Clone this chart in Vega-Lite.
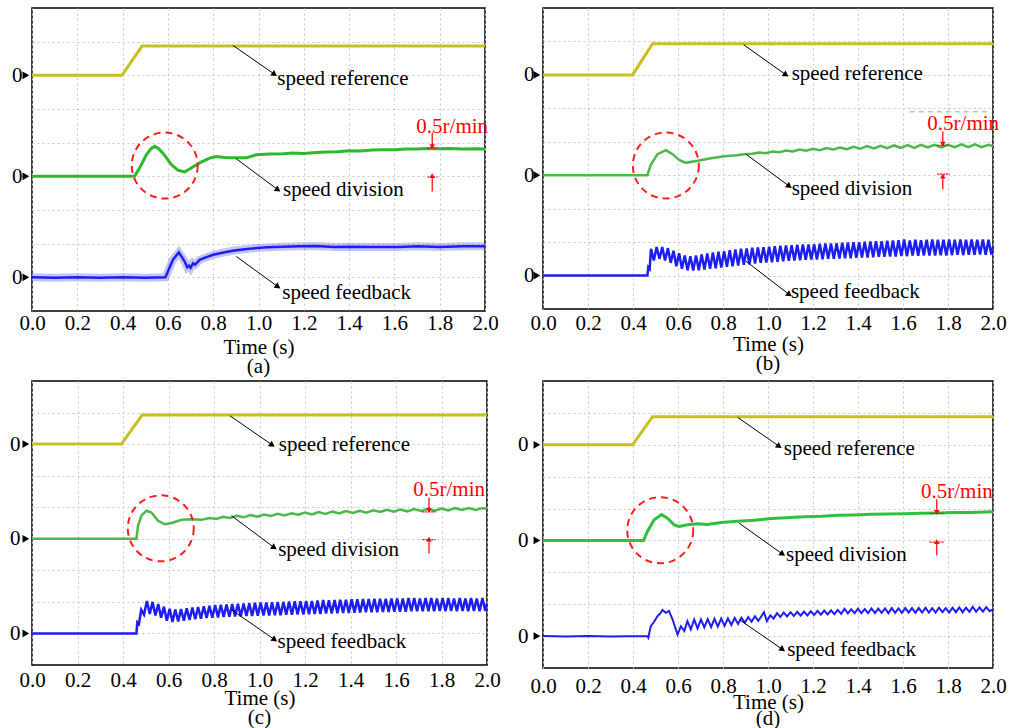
{
"$schema":"https://vega.github.io/schema/vega-lite/v6.json",
"padding":{"left":8,"top":7,"right":5,"bottom":5},
"background":"white",
"config":{
"font":"Liberation Serif, Times New Roman, Times, serif",
"view":{"stroke":"#000","strokeWidth":1.5},
"axis":{"labelFont":"Liberation Serif, Times New Roman, Times, serif","labelFontSize":21,"labelColor":"#000","titleFont":"Liberation Serif, Times New Roman, Times, serif","titleFontSize":21,"titleFontWeight":"normal","titleColor":"#000","domain":false,"ticks":false,"gridColor":"#c8c8c8","gridDash":[2,3],"gridWidth":1,"labelFlush":false,"labelOverlap":false},
"title":{"font":"Liberation Serif, Times New Roman, Times, serif","fontSize":21,"fontWeight":"normal","color":"#000","orient":"bottom","offset":-1},
"text":{"font":"Liberation Serif, Times New Roman, Times, serif"},
"point":{"opacity":1}
},
"datasets":{
"zero":[{"t":-0.027,"v":1},{"t":-0.027,"v":4},{"t":-0.027,"v":7}],
"a_ref":[{"t":0,"v":7},{"t":0.397,"v":7},{"t":0.486,"v":7.87},{"t":2,"v":7.87}],
"a_div":[{"t":0,"v":4},{"t":0.453,"v":4},{"t":0.475,"v":4.25},{"t":0.505,"v":4.64},{"t":0.525,"v":4.82},{"t":0.542,"v":4.89},{"t":0.56,"v":4.82},{"t":0.578,"v":4.69},{"t":0.597,"v":4.52},{"t":0.615,"v":4.35},{"t":0.645,"v":4.18},{"t":0.674,"v":4.13},{"t":0.703,"v":4.25},{"t":0.74,"v":4.4},{"t":0.784,"v":4.54},{"t":0.814,"v":4.59},{"t":0.85,"v":4.56},{"t":0.887,"v":4.55},{"t":0.946,"v":4.55},{"t":0.99,"v":4.64},{"t":1.05,"v":4.66},{"t":1.108,"v":4.67},{"t":1.15,"v":4.69},{"t":1.2,"v":4.68},{"t":1.255,"v":4.71},{"t":1.3,"v":4.72},{"t":1.35,"v":4.73},{"t":1.4,"v":4.76},{"t":1.45,"v":4.75},{"t":1.5,"v":4.78},{"t":1.55,"v":4.79},{"t":1.6,"v":4.79},{"t":1.65,"v":4.81},{"t":1.7,"v":4.81},{"t":1.75,"v":4.83},{"t":1.8,"v":4.82},{"t":1.84,"v":4.83},{"t":1.9,"v":4.81},{"t":1.95,"v":4.82},{"t":2,"v":4.81}],
"a_fb":[{"t":0,"v":1},{"t":0.1,"v":0.99},{"t":0.2,"v":1},{"t":0.3,"v":0.99},{"t":0.4,"v":1},{"t":0.5,"v":0.99},{"t":0.589,"v":1},{"t":0.6,"v":1.17},{"t":0.622,"v":1.52},{"t":0.648,"v":1.74},{"t":0.662,"v":1.6},{"t":0.674,"v":1.47},{"t":0.685,"v":1.3},{"t":0.693,"v":1.35},{"t":0.7,"v":1.28},{"t":0.711,"v":1.42},{"t":0.72,"v":1.38},{"t":0.74,"v":1.52},{"t":0.77,"v":1.6},{"t":0.8,"v":1.67},{"t":0.84,"v":1.73},{"t":0.887,"v":1.79},{"t":0.93,"v":1.83},{"t":0.976,"v":1.86},{"t":1.04,"v":1.89},{"t":1.108,"v":1.91},{"t":1.18,"v":1.92},{"t":1.255,"v":1.93},{"t":1.33,"v":1.9},{"t":1.4,"v":1.91},{"t":1.5,"v":1.9},{"t":1.62,"v":1.9},{"t":1.7,"v":1.92},{"t":1.8,"v":1.9},{"t":1.9,"v":1.92},{"t":2,"v":1.92}],
"a_arr":[{"t":1.071,"v":7.03,"t2":0.887,"v2":7.89},{"t":1.086,"v":3.6,"t2":0.902,"v2":4.52},{"t":1.086,"v":0.72,"t2":0.902,"v2":1.62}],
"a_txt":[{"t":1.083,"v":6.88,"label":"speed reference"},{"t":1.108,"v":3.58,"label":"speed division"},{"t":1.105,"v":0.54,"label":"speed feedback"}],
"a_red":[{"t":1.697,"v":5.46,"label":"0.5r/min"}],
"a_rarr":[{"t":1.767,"v":4.88,"t2":1.767,"v2":5.3,"dir":"down"},{"t":1.767,"v":4.02,"t2":1.767,"v2":3.55,"dir":"up"}],
"a_rdot":[{"t":1.745,"t2":1.79,"v":4.84},{"t":1.745,"t2":1.79,"v":3.98}],
"a_circ":[{"t":0.586,"v":4.32}],
"b_ref":[{"t":0,"v":7},{"t":0.398,"v":7},{"t":0.487,"v":7.93},{"t":2,"v":7.93}],
"b_div":[{"t":0,"v":4},{"t":0.464,"v":4},{"t":0.479,"v":4.31},{"t":0.509,"v":4.63},{"t":0.546,"v":4.75},{"t":0.576,"v":4.63},{"t":0.605,"v":4.46},{"t":0.635,"v":4.37},{"t":0.687,"v":4.43},{"t":0.746,"v":4.51},{"t":0.806,"v":4.57},{"t":0.86,"v":4.6},{"t":0.895,"v":4.63},{"t":0.93,"v":4.64},{"t":0.96,"v":4.68},{"t":0.99,"v":4.66},{"t":1.02,"v":4.71},{"t":1.05,"v":4.69},{"t":1.08,"v":4.74},{"t":1.11,"v":4.71},{"t":1.14,"v":4.77},{"t":1.17,"v":4.73},{"t":1.2,"v":4.79},{"t":1.23,"v":4.75},{"t":1.26,"v":4.81},{"t":1.29,"v":4.77},{"t":1.32,"v":4.83},{"t":1.35,"v":4.78},{"t":1.38,"v":4.85},{"t":1.41,"v":4.79},{"t":1.44,"v":4.87},{"t":1.47,"v":4.8},{"t":1.5,"v":4.88},{"t":1.53,"v":4.81},{"t":1.56,"v":4.89},{"t":1.59,"v":4.82},{"t":1.62,"v":4.9},{"t":1.65,"v":4.82},{"t":1.68,"v":4.91},{"t":1.71,"v":4.83},{"t":1.74,"v":4.91},{"t":1.77,"v":4.83},{"t":1.8,"v":4.91},{"t":1.83,"v":4.84},{"t":1.86,"v":4.92},{"t":1.89,"v":4.84},{"t":1.92,"v":4.92},{"t":1.95,"v":4.84},{"t":1.98,"v":4.91},{"t":2,"v":4.87}],
"b_fb":[{"t":0,"v":1},{"t":0.464,"v":1},{"t":0.468,"v":1.25},{"t":0.474,"v":1.2},{"t":0.48,"v":1.8},{"t":0.4925,"v":1.45},{"t":0.505,"v":1.85},{"t":0.5175,"v":1.5},{"t":0.53,"v":1.85},{"t":0.5425,"v":1.45},{"t":0.555,"v":1.82},{"t":0.5675,"v":1.38},{"t":0.58,"v":1.74},{"t":0.5925,"v":1.28},{"t":0.605,"v":1.67},{"t":0.6175,"v":1.2},{"t":0.63,"v":1.6},{"t":0.6425,"v":1.16},{"t":0.655,"v":1.58},{"t":0.6675,"v":1.15},{"t":0.68,"v":1.6},{"t":0.6925,"v":1.16},{"t":0.705,"v":1.63},{"t":0.7175,"v":1.18},{"t":0.73,"v":1.66},{"t":0.7425,"v":1.2},{"t":0.755,"v":1.69},{"t":0.7675,"v":1.22},{"t":0.78,"v":1.71},{"t":0.7925,"v":1.24},{"t":0.805,"v":1.73},{"t":0.8175,"v":1.26},{"t":0.83,"v":1.76},{"t":0.8425,"v":1.28},{"t":0.855,"v":1.78},{"t":0.8675,"v":1.3},{"t":0.88,"v":1.8},{"t":0.8925,"v":1.32},{"t":0.905,"v":1.81},{"t":0.9175,"v":1.34},{"t":0.93,"v":1.83},{"t":0.9425,"v":1.36},{"t":0.955,"v":1.84},{"t":0.9675,"v":1.38},{"t":0.98,"v":1.85},{"t":0.9925,"v":1.39},{"t":1.005,"v":1.86},{"t":1.0175,"v":1.4},{"t":1.03,"v":1.88},{"t":1.0425,"v":1.41},{"t":1.055,"v":1.89},{"t":1.0675,"v":1.43},{"t":1.08,"v":1.9},{"t":1.0925,"v":1.44},{"t":1.105,"v":1.91},{"t":1.1175,"v":1.45},{"t":1.13,"v":1.92},{"t":1.1425,"v":1.46},{"t":1.155,"v":1.93},{"t":1.1675,"v":1.47},{"t":1.18,"v":1.93},{"t":1.1925,"v":1.48},{"t":1.205,"v":1.94},{"t":1.2175,"v":1.48},{"t":1.23,"v":1.95},{"t":1.2425,"v":1.49},{"t":1.255,"v":1.96},{"t":1.2675,"v":1.5},{"t":1.28,"v":1.96},{"t":1.2925,"v":1.5},{"t":1.305,"v":1.97},{"t":1.3175,"v":1.51},{"t":1.33,"v":1.98},{"t":1.3425,"v":1.52},{"t":1.355,"v":1.99},{"t":1.3675,"v":1.52},{"t":1.38,"v":2},{"t":1.3925,"v":1.53},{"t":1.405,"v":2},{"t":1.4175,"v":1.54},{"t":1.43,"v":2.01},{"t":1.4425,"v":1.54},{"t":1.455,"v":2.02},{"t":1.4675,"v":1.55},{"t":1.48,"v":2.03},{"t":1.4925,"v":1.56},{"t":1.505,"v":2.03},{"t":1.5175,"v":1.56},{"t":1.53,"v":2.04},{"t":1.5425,"v":1.57},{"t":1.555,"v":2.05},{"t":1.5675,"v":1.57},{"t":1.58,"v":2.06},{"t":1.5925,"v":1.58},{"t":1.605,"v":2.08},{"t":1.6175,"v":1.58},{"t":1.63,"v":2.05},{"t":1.6425,"v":1.6},{"t":1.655,"v":2.07},{"t":1.6675,"v":1.59},{"t":1.68,"v":2.06},{"t":1.6925,"v":1.6},{"t":1.705,"v":2.07},{"t":1.7175,"v":1.6},{"t":1.73,"v":2.08},{"t":1.7425,"v":1.6},{"t":1.755,"v":2.07},{"t":1.7675,"v":1.61},{"t":1.78,"v":2.07},{"t":1.7925,"v":1.6},{"t":1.805,"v":2.08},{"t":1.8175,"v":1.61},{"t":1.83,"v":2.07},{"t":1.8425,"v":1.62},{"t":1.855,"v":2.08},{"t":1.8675,"v":1.61},{"t":1.88,"v":2.07},{"t":1.8925,"v":1.62},{"t":1.905,"v":2.08},{"t":1.9175,"v":1.62},{"t":1.93,"v":2.07},{"t":1.9425,"v":1.63},{"t":1.955,"v":2.08},{"t":1.9675,"v":1.62},{"t":1.98,"v":2.07},{"t":1.9925,"v":1.63},{"t":2,"v":1.85}],
"b_arr":[{"t":1.08,"v":7,"t2":0.892,"v2":7.9},{"t":1.095,"v":3.67,"t2":0.902,"v2":4.63},{"t":1.095,"v":0.43,"t2":0.902,"v2":1.43}],
"b_txt":[{"t":1.105,"v":7.02,"label":"speed reference"},{"t":1.105,"v":3.59,"label":"speed division"},{"t":1.102,"v":0.5,"label":"speed feedback"}],
"b_red":[{"t":1.708,"v":5.53,"label":"0.5r/min"}],
"b_rarr":[{"t":1.777,"v":4.93,"t2":1.777,"v2":5.31,"dir":"down"},{"t":1.777,"v":3.97,"t2":1.777,"v2":3.57,"dir":"up"}],
"b_rdot":[{"t":1.752,"t2":1.807,"v":4.89},{"t":1.752,"t2":1.807,"v":4.03}],
"b_circ":[{"t":0.546,"v":4.29}],
"b_gdash":[{"t":1.63,"t2":1.99,"v":5.9}],
"c_ref":[{"t":0,"v":7},{"t":0.393,"v":7},{"t":0.484,"v":7.92},{"t":2,"v":7.92}],
"c_div":[{"t":0,"v":4},{"t":0.459,"v":4},{"t":0.466,"v":4.41},{"t":0.481,"v":4.73},{"t":0.503,"v":4.89},{"t":0.525,"v":4.83},{"t":0.554,"v":4.57},{"t":0.584,"v":4.46},{"t":0.613,"v":4.5},{"t":0.657,"v":4.6},{"t":0.701,"v":4.62},{"t":0.745,"v":4.6},{"t":0.78,"v":4.66},{"t":0.81,"v":4.63},{"t":0.84,"v":4.7},{"t":0.87,"v":4.66},{"t":0.9,"v":4.73},{"t":0.93,"v":4.68},{"t":0.96,"v":4.75},{"t":0.99,"v":4.7},{"t":1.02,"v":4.77},{"t":1.05,"v":4.72},{"t":1.08,"v":4.79},{"t":1.11,"v":4.74},{"t":1.14,"v":4.81},{"t":1.17,"v":4.76},{"t":1.2,"v":4.83},{"t":1.23,"v":4.77},{"t":1.26,"v":4.85},{"t":1.29,"v":4.79},{"t":1.32,"v":4.86},{"t":1.35,"v":4.8},{"t":1.38,"v":4.88},{"t":1.41,"v":4.82},{"t":1.44,"v":4.89},{"t":1.47,"v":4.83},{"t":1.5,"v":4.9},{"t":1.53,"v":4.85},{"t":1.56,"v":4.92},{"t":1.59,"v":4.86},{"t":1.62,"v":4.93},{"t":1.65,"v":4.87},{"t":1.68,"v":4.94},{"t":1.71,"v":4.88},{"t":1.74,"v":4.95},{"t":1.77,"v":4.89},{"t":1.8,"v":4.96},{"t":1.83,"v":4.9},{"t":1.86,"v":4.97},{"t":1.89,"v":4.91},{"t":1.92,"v":4.97},{"t":1.95,"v":4.91},{"t":1.98,"v":4.97},{"t":2,"v":4.95}],
"c_fb":[{"t":0,"v":1},{"t":0.459,"v":1},{"t":0.463,"v":1.35},{"t":0.47,"v":1.3},{"t":0.48,"v":1.75},{"t":0.4925,"v":1.6},{"t":0.505,"v":2.03},{"t":0.5175,"v":1.62},{"t":0.53,"v":2},{"t":0.5425,"v":1.57},{"t":0.555,"v":1.93},{"t":0.5675,"v":1.5},{"t":0.58,"v":1.85},{"t":0.5925,"v":1.4},{"t":0.605,"v":1.78},{"t":0.6175,"v":1.36},{"t":0.63,"v":1.76},{"t":0.6425,"v":1.38},{"t":0.655,"v":1.77},{"t":0.6675,"v":1.4},{"t":0.68,"v":1.8},{"t":0.6925,"v":1.43},{"t":0.705,"v":1.82},{"t":0.7175,"v":1.45},{"t":0.73,"v":1.84},{"t":0.7425,"v":1.47},{"t":0.755,"v":1.86},{"t":0.7675,"v":1.49},{"t":0.78,"v":1.88},{"t":0.7925,"v":1.5},{"t":0.805,"v":1.9},{"t":0.8175,"v":1.51},{"t":0.83,"v":1.91},{"t":0.8425,"v":1.52},{"t":0.855,"v":1.92},{"t":0.8675,"v":1.53},{"t":0.88,"v":1.93},{"t":0.8925,"v":1.54},{"t":0.905,"v":1.94},{"t":0.9175,"v":1.54},{"t":0.93,"v":1.95},{"t":0.9425,"v":1.55},{"t":0.955,"v":1.96},{"t":0.9675,"v":1.55},{"t":0.98,"v":1.97},{"t":0.9925,"v":1.56},{"t":1.005,"v":1.98},{"t":1.0175,"v":1.57},{"t":1.03,"v":1.98},{"t":1.0425,"v":1.57},{"t":1.055,"v":1.99},{"t":1.0675,"v":1.58},{"t":1.08,"v":2},{"t":1.0925,"v":1.58},{"t":1.105,"v":2},{"t":1.1175,"v":1.59},{"t":1.13,"v":2.01},{"t":1.1425,"v":1.59},{"t":1.155,"v":2.02},{"t":1.1675,"v":1.6},{"t":1.18,"v":2.02},{"t":1.1925,"v":1.6},{"t":1.205,"v":2.03},{"t":1.2175,"v":1.61},{"t":1.23,"v":2.03},{"t":1.2425,"v":1.62},{"t":1.255,"v":2.04},{"t":1.2675,"v":1.62},{"t":1.28,"v":2.06},{"t":1.2925,"v":1.63},{"t":1.305,"v":2.05},{"t":1.3175,"v":1.63},{"t":1.33,"v":2.06},{"t":1.3425,"v":1.64},{"t":1.355,"v":2.07},{"t":1.3675,"v":1.65},{"t":1.38,"v":2.07},{"t":1.3925,"v":1.65},{"t":1.405,"v":2.08},{"t":1.4175,"v":1.66},{"t":1.43,"v":2.08},{"t":1.4425,"v":1.66},{"t":1.455,"v":2.09},{"t":1.4675,"v":1.67},{"t":1.48,"v":2.09},{"t":1.4925,"v":1.67},{"t":1.505,"v":2.1},{"t":1.5175,"v":1.67},{"t":1.53,"v":2.1},{"t":1.5425,"v":1.68},{"t":1.555,"v":2.1},{"t":1.5675,"v":1.68},{"t":1.58,"v":2.11},{"t":1.5925,"v":1.69},{"t":1.605,"v":2.11},{"t":1.6175,"v":1.69},{"t":1.63,"v":2.11},{"t":1.6425,"v":1.69},{"t":1.655,"v":2.12},{"t":1.6675,"v":1.7},{"t":1.68,"v":2.12},{"t":1.6925,"v":1.7},{"t":1.705,"v":2.11},{"t":1.7175,"v":1.7},{"t":1.73,"v":2.12},{"t":1.7425,"v":1.7},{"t":1.755,"v":2.12},{"t":1.7675,"v":1.7},{"t":1.78,"v":2.11},{"t":1.7925,"v":1.71},{"t":1.805,"v":2.12},{"t":1.8175,"v":1.7},{"t":1.83,"v":2.12},{"t":1.8425,"v":1.71},{"t":1.855,"v":2.11},{"t":1.8675,"v":1.7},{"t":1.88,"v":2.12},{"t":1.8925,"v":1.71},{"t":1.905,"v":2.11},{"t":1.9175,"v":1.7},{"t":1.93,"v":2.12},{"t":1.9425,"v":1.71},{"t":1.955,"v":2.11},{"t":1.9675,"v":1.7},{"t":1.98,"v":2.12},{"t":1.9925,"v":1.71},{"t":2,"v":1.95}],
"c_arr":[{"t":1.056,"v":6.97,"t2":0.87,"v2":7.9},{"t":1.065,"v":3.72,"t2":0.877,"v2":4.73},{"t":1.067,"v":0.8,"t2":0.877,"v2":1.75}],
"c_txt":[{"t":1.085,"v":6.97,"label":"speed reference"},{"t":1.082,"v":3.64,"label":"speed division"},{"t":1.079,"v":0.74,"label":"speed feedback"}],
"c_red":[{"t":1.676,"v":5.55,"label":"0.5r/min"}],
"c_rarr":[{"t":1.745,"v":4.9,"t2":1.745,"v2":5.31,"dir":"down"},{"t":1.745,"v":3.99,"t2":1.745,"v2":3.53,"dir":"up"}],
"c_rdot":[{"t":1.716,"t2":1.774,"v":4.85},{"t":1.716,"t2":1.774,"v":3.97}],
"c_circ":[{"t":0.566,"v":4.33}],
"d_ref":[{"t":0,"v":7},{"t":0.398,"v":7},{"t":0.487,"v":7.88},{"t":2,"v":7.88}],
"d_div":[{"t":0,"v":4},{"t":0.447,"v":4},{"t":0.464,"v":4.28},{"t":0.494,"v":4.65},{"t":0.527,"v":4.81},{"t":0.553,"v":4.7},{"t":0.583,"v":4.49},{"t":0.605,"v":4.44},{"t":0.642,"v":4.49},{"t":0.687,"v":4.52},{"t":0.731,"v":4.5},{"t":0.791,"v":4.56},{"t":0.865,"v":4.6},{"t":0.939,"v":4.63},{"t":1.013,"v":4.69},{"t":1.08,"v":4.71},{"t":1.162,"v":4.74},{"t":1.24,"v":4.76},{"t":1.31,"v":4.79},{"t":1.38,"v":4.8},{"t":1.458,"v":4.82},{"t":1.53,"v":4.83},{"t":1.607,"v":4.84},{"t":1.68,"v":4.85},{"t":1.755,"v":4.86},{"t":1.83,"v":4.88},{"t":1.9,"v":4.88},{"t":2,"v":4.9}],
"d_fb":[{"t":0,"v":1},{"t":0.1,"v":0.99},{"t":0.2,"v":1},{"t":0.3,"v":0.99},{"t":0.464,"v":1},{"t":0.468,"v":0.95},{"t":0.479,"v":1.31},{"t":0.494,"v":1.45},{"t":0.509,"v":1.63},{"t":0.52,"v":1.7},{"t":0.531,"v":1.82},{"t":0.546,"v":1.73},{"t":0.56,"v":1.79},{"t":0.576,"v":1.52},{"t":0.598,"v":1.05},{"t":0.613,"v":1.31},{"t":0.628,"v":1.16},{"t":0.642,"v":1.47},{"t":0.657,"v":1.21},{"t":0.672,"v":1.52},{"t":0.687,"v":1.24},{"t":0.702,"v":1.52},{"t":0.717,"v":1.27},{"t":0.732,"v":1.53},{"t":0.747,"v":1.28},{"t":0.762,"v":1.54},{"t":0.777,"v":1.3},{"t":0.792,"v":1.55},{"t":0.807,"v":1.32},{"t":0.822,"v":1.56},{"t":0.837,"v":1.35},{"t":0.852,"v":1.57},{"t":0.867,"v":1.38},{"t":0.882,"v":1.58},{"t":0.897,"v":1.42},{"t":0.912,"v":1.6},{"t":0.927,"v":1.45},{"t":0.942,"v":1.62},{"t":0.957,"v":1.48},{"t":0.972,"v":1.64},{"t":0.982,"v":1.75},{"t":0.995,"v":1.47},{"t":1.01,"v":1.65},{"t":1.025,"v":1.55},{"t":1.04,"v":1.72},{"t":1.055,"v":1.6},{"t":1.07,"v":1.74},{"t":1.085,"v":1.62},{"t":1.1,"v":1.75},{"t":1.115,"v":1.63},{"t":1.13,"v":1.76},{"t":1.145,"v":1.64},{"t":1.16,"v":1.77},{"t":1.175,"v":1.65},{"t":1.19,"v":1.78},{"t":1.205,"v":1.66},{"t":1.22,"v":1.79},{"t":1.235,"v":1.67},{"t":1.25,"v":1.8},{"t":1.265,"v":1.68},{"t":1.28,"v":1.81},{"t":1.295,"v":1.69},{"t":1.31,"v":1.82},{"t":1.325,"v":1.7},{"t":1.34,"v":1.86},{"t":1.355,"v":1.71},{"t":1.37,"v":1.84},{"t":1.385,"v":1.72},{"t":1.4,"v":1.86},{"t":1.415,"v":1.72},{"t":1.43,"v":1.85},{"t":1.445,"v":1.72},{"t":1.46,"v":1.87},{"t":1.475,"v":1.72},{"t":1.49,"v":1.86},{"t":1.505,"v":1.73},{"t":1.52,"v":1.87},{"t":1.535,"v":1.72},{"t":1.55,"v":1.88},{"t":1.565,"v":1.73},{"t":1.58,"v":1.87},{"t":1.595,"v":1.73},{"t":1.61,"v":1.88},{"t":1.625,"v":1.74},{"t":1.64,"v":1.88},{"t":1.655,"v":1.73},{"t":1.67,"v":1.88},{"t":1.685,"v":1.74},{"t":1.7,"v":1.89},{"t":1.715,"v":1.74},{"t":1.73,"v":1.88},{"t":1.745,"v":1.74},{"t":1.76,"v":1.89},{"t":1.775,"v":1.75},{"t":1.79,"v":1.88},{"t":1.805,"v":1.74},{"t":1.82,"v":1.89},{"t":1.835,"v":1.75},{"t":1.85,"v":1.9},{"t":1.865,"v":1.75},{"t":1.88,"v":1.89},{"t":1.895,"v":1.76},{"t":1.91,"v":1.92},{"t":1.925,"v":1.76},{"t":1.94,"v":1.9},{"t":1.955,"v":1.77},{"t":1.97,"v":1.91},{"t":1.985,"v":1.78},{"t":2,"v":1.84}],
"d_arr":[{"t":1.05,"v":6.95,"t2":0.865,"v2":7.86},{"t":1.065,"v":3.57,"t2":0.872,"v2":4.54},{"t":1.065,"v":0.58,"t2":0.872,"v2":1.52}],
"d_txt":[{"t":1.07,"v":6.88,"label":"speed reference"},{"t":1.08,"v":3.53,"label":"speed division"},{"t":1.085,"v":0.58,"label":"speed feedback"}],
"d_red":[{"t":1.68,"v":5.52,"label":"0.5r/min"}],
"d_rarr":[{"t":1.75,"v":4.88,"t2":1.75,"v2":5.29,"dir":"down"},{"t":1.75,"v":3.96,"t2":1.75,"v2":3.53,"dir":"up"}],
"d_rdot":[{"t":1.718,"t2":1.78,"v":4.85},{"t":1.718,"t2":1.78,"v":3.95}],
"d_circ":[{"t":0.521,"v":4.32}]
},
"columns":2,
"bounds":"flush",
"spacing":{"row":70,"column":56},
"concat":[
{
"width":453,"height":303,"title":{"text":"(a)"},
"encoding":{
"x":{"field":"t","type":"quantitative","scale":{"domain":[0,2],"nice":false},"axis":{"values":[0,0.2,0.4,0.6,0.8,1,1.2,1.4,1.6,1.8,2],"format":".1f","title":"Time (s)","labelPadding":1,"titlePadding":3}},
"y":{"field":"v","type":"quantitative","scale":{"domain":[0,9],"nice":false},"axis":{"values":[1,2,3,4,5,6,7,8],"labelExpr":"datum.value === 1 || datum.value === 4 || datum.value === 7 ? '0' : ''","labelPadding":10,"title":null}}
},
"layer":[
{"data":{"name":"a_ref"},"mark":{"type":"line","color":"#c8c020","strokeWidth":3}},
{"data":{"name":"a_div"},"mark":{"type":"line","color":"#2db82d","strokeWidth":3}},
{"data":{"name":"a_fb"},"mark":{"type":"line","color":"#3a3af0","strokeWidth":8,"opacity":0.3}},
{"data":{"name":"a_fb"},"mark":{"type":"line","color":"#1e1ef0","strokeWidth":2.5}},
{"data":{"name":"zero"},"mark":{"type":"point","shape":"triangle-right","filled":true,"color":"#000","size":60}},
{"data":{"name":"a_arr"},"mark":{"type":"rule","color":"#000","strokeWidth":1},"encoding":{"x2":{"field":"t2"},"y2":{"field":"v2"}}},
{"data":{"name":"a_arr"},"mark":{"type":"point","shape":"triangle-up","angle":125,"filled":true,"color":"#000","size":45}},
{"data":{"name":"a_txt"},"mark":{"type":"text","align":"left","baseline":"middle","fontSize":21,"color":"#000"},"encoding":{"text":{"field":"label"}}},
{"data":{"name":"a_red"},"mark":{"type":"text","align":"left","baseline":"middle","fontSize":21,"color":"#ff0000"},"encoding":{"text":{"field":"label"}}},
{"data":{"name":"a_rarr"},"mark":{"type":"rule","color":"#ff0000","strokeWidth":1.2},"encoding":{"x2":{"field":"t2"},"y2":{"field":"v2"}}},
{"data":{"name":"a_rarr"},"mark":{"type":"point","filled":true,"color":"#ff0000","size":30},"encoding":{"shape":{"field":"dir","type":"nominal","scale":{"domain":["down","up"],"range":["triangle-down","triangle-up"]},"legend":null}}},
{"data":{"name":"a_rdot"},"mark":{"type":"rule","color":"#ff0000","strokeWidth":1.2,"strokeDash":[2,1]},"encoding":{"x2":{"field":"t2"}}},
{"data":{"name":"a_circ"},"mark":{"type":"point","shape":"circle","filled":false,"color":"#ff1e1e","size":4356,"strokeWidth":2,"strokeDash":[7,5]}}
]
},
{
"width":450,"height":301,"title":{"text":"(b)"},
"encoding":{
"x":{"field":"t","type":"quantitative","scale":{"domain":[0,2],"nice":false},"axis":{"values":[0,0.2,0.4,0.6,0.8,1,1.2,1.4,1.6,1.8,2],"format":".1f","title":"Time (s)","labelPadding":3,"titlePadding":0}},
"y":{"field":"v","type":"quantitative","scale":{"domain":[0,9],"nice":false},"axis":{"values":[1,2,3,4,5,6,7,8],"labelExpr":"datum.value === 1 || datum.value === 4 || datum.value === 7 ? '0' : ''","labelPadding":9,"title":null}}
},
"layer":[
{"data":{"name":"b_gdash"},"mark":{"type":"rule","color":"#9be09b","strokeWidth":1.5,"strokeDash":[5,4]},"encoding":{"x2":{"field":"t2"}}},
{"data":{"name":"b_ref"},"mark":{"type":"line","color":"#c8c020","strokeWidth":3}},
{"data":{"name":"b_div"},"mark":{"type":"line","color":"#4cb84c","strokeWidth":2.5}},
{"data":{"name":"b_fb"},"mark":{"type":"line","color":"#1e1ef0","strokeWidth":2.5}},
{"data":{"name":"zero"},"mark":{"type":"point","shape":"triangle-right","filled":true,"color":"#000","size":60}},
{"data":{"name":"b_arr"},"mark":{"type":"rule","color":"#000","strokeWidth":1},"encoding":{"x2":{"field":"t2"},"y2":{"field":"v2"}}},
{"data":{"name":"b_arr"},"mark":{"type":"point","shape":"triangle-up","angle":125,"filled":true,"color":"#000","size":45}},
{"data":{"name":"b_txt"},"mark":{"type":"text","align":"left","baseline":"middle","fontSize":21,"color":"#000"},"encoding":{"text":{"field":"label"}}},
{"data":{"name":"b_red"},"mark":{"type":"text","align":"left","baseline":"middle","fontSize":21,"color":"#ff0000"},"encoding":{"text":{"field":"label"}}},
{"data":{"name":"b_rarr"},"mark":{"type":"rule","color":"#ff0000","strokeWidth":1.2},"encoding":{"x2":{"field":"t2"},"y2":{"field":"v2"}}},
{"data":{"name":"b_rarr"},"mark":{"type":"point","filled":true,"color":"#ff0000","size":30},"encoding":{"shape":{"field":"dir","type":"nominal","scale":{"domain":["down","up"],"range":["triangle-down","triangle-up"]},"legend":null}}},
{"data":{"name":"b_rdot"},"mark":{"type":"rule","color":"#ff0000","strokeWidth":1.2,"strokeDash":[2,1]},"encoding":{"x2":{"field":"t2"}}},
{"data":{"name":"b_circ"},"mark":{"type":"point","shape":"circle","filled":false,"color":"#ff1e1e","size":4356,"strokeWidth":2,"strokeDash":[7,5]}}
]
},
{
"width":455,"height":284,"title":{"text":"(c)"},
"encoding":{
"x":{"field":"t","type":"quantitative","scale":{"domain":[0,2],"nice":false},"axis":{"values":[0,0.2,0.4,0.6,0.8,1,1.2,1.4,1.6,1.8,2],"format":".1f","title":"Time (s)","labelPadding":4,"titlePadding":-3}},
"y":{"field":"v","type":"quantitative","scale":{"domain":[0,9],"nice":false},"axis":{"values":[1,2,3,4,5,6,7,8],"labelExpr":"datum.value === 1 || datum.value === 4 || datum.value === 7 ? '0' : ''","labelPadding":12,"title":null}}
},
"layer":[
{"data":{"name":"c_ref"},"mark":{"type":"line","color":"#c8c020","strokeWidth":3}},
{"data":{"name":"c_div"},"mark":{"type":"line","color":"#4cb84c","strokeWidth":2.5}},
{"data":{"name":"c_fb"},"mark":{"type":"line","color":"#1e1ef0","strokeWidth":2.5}},
{"data":{"name":"zero"},"mark":{"type":"point","shape":"triangle-right","filled":true,"color":"#000","size":60}},
{"data":{"name":"c_arr"},"mark":{"type":"rule","color":"#000","strokeWidth":1},"encoding":{"x2":{"field":"t2"},"y2":{"field":"v2"}}},
{"data":{"name":"c_arr"},"mark":{"type":"point","shape":"triangle-up","angle":125,"filled":true,"color":"#000","size":45}},
{"data":{"name":"c_txt"},"mark":{"type":"text","align":"left","baseline":"middle","fontSize":21,"color":"#000"},"encoding":{"text":{"field":"label"}}},
{"data":{"name":"c_red"},"mark":{"type":"text","align":"left","baseline":"middle","fontSize":21,"color":"#ff0000"},"encoding":{"text":{"field":"label"}}},
{"data":{"name":"c_rarr"},"mark":{"type":"rule","color":"#ff0000","strokeWidth":1.2},"encoding":{"x2":{"field":"t2"},"y2":{"field":"v2"}}},
{"data":{"name":"c_rarr"},"mark":{"type":"point","filled":true,"color":"#ff0000","size":30},"encoding":{"shape":{"field":"dir","type":"nominal","scale":{"domain":["down","up"],"range":["triangle-down","triangle-up"]},"legend":null}}},
{"data":{"name":"c_rdot"},"mark":{"type":"rule","color":"#ff0000","strokeWidth":1.2,"strokeDash":[2,1]},"encoding":{"x2":{"field":"t2"}}},
{"data":{"name":"c_circ"},"mark":{"type":"point","shape":"circle","filled":false,"color":"#ff1e1e","size":4356,"strokeWidth":2,"strokeDash":[7,5]}}
]
},
{
"width":450,"height":287,"title":{"text":"(d)","offset":-4},
"encoding":{
"x":{"field":"t","type":"quantitative","scale":{"domain":[0,2],"nice":false},"axis":{"values":[0,0.2,0.4,0.6,0.8,1,1.2,1.4,1.6,1.8,2],"format":".1f","title":"Time (s)","labelPadding":7,"titlePadding":-5}},
"y":{"field":"v","type":"quantitative","scale":{"domain":[0,9],"nice":false},"axis":{"values":[1,2,3,4,5,6,7,8],"labelExpr":"datum.value === 1 || datum.value === 4 || datum.value === 7 ? '0' : ''","labelPadding":15,"title":null}}
},
"layer":[
{"data":{"name":"d_ref"},"mark":{"type":"line","color":"#c8c020","strokeWidth":3}},
{"data":{"name":"d_div"},"mark":{"type":"line","color":"#2dc23d","strokeWidth":3}},
{"data":{"name":"d_fb"},"mark":{"type":"line","color":"#1e1ef0","strokeWidth":2}},
{"data":{"name":"zero"},"mark":{"type":"point","shape":"triangle-right","filled":true,"color":"#000","size":60}},
{"data":{"name":"d_arr"},"mark":{"type":"rule","color":"#000","strokeWidth":1},"encoding":{"x2":{"field":"t2"},"y2":{"field":"v2"}}},
{"data":{"name":"d_arr"},"mark":{"type":"point","shape":"triangle-up","angle":125,"filled":true,"color":"#000","size":45}},
{"data":{"name":"d_txt"},"mark":{"type":"text","align":"left","baseline":"middle","fontSize":21,"color":"#000"},"encoding":{"text":{"field":"label"}}},
{"data":{"name":"d_red"},"mark":{"type":"text","align":"left","baseline":"middle","fontSize":21,"color":"#ff0000"},"encoding":{"text":{"field":"label"}}},
{"data":{"name":"d_rarr"},"mark":{"type":"rule","color":"#ff0000","strokeWidth":1.2},"encoding":{"x2":{"field":"t2"},"y2":{"field":"v2"}}},
{"data":{"name":"d_rarr"},"mark":{"type":"point","filled":true,"color":"#ff0000","size":30},"encoding":{"shape":{"field":"dir","type":"nominal","scale":{"domain":["down","up"],"range":["triangle-down","triangle-up"]},"legend":null}}},
{"data":{"name":"d_rdot"},"mark":{"type":"rule","color":"#ff0000","strokeWidth":1.2,"strokeDash":[2,1]},"encoding":{"x2":{"field":"t2"}}},
{"data":{"name":"d_circ"},"mark":{"type":"point","shape":"circle","filled":false,"color":"#ff1e1e","size":4356,"strokeWidth":2,"strokeDash":[7,5]}}
]
}
]
}
